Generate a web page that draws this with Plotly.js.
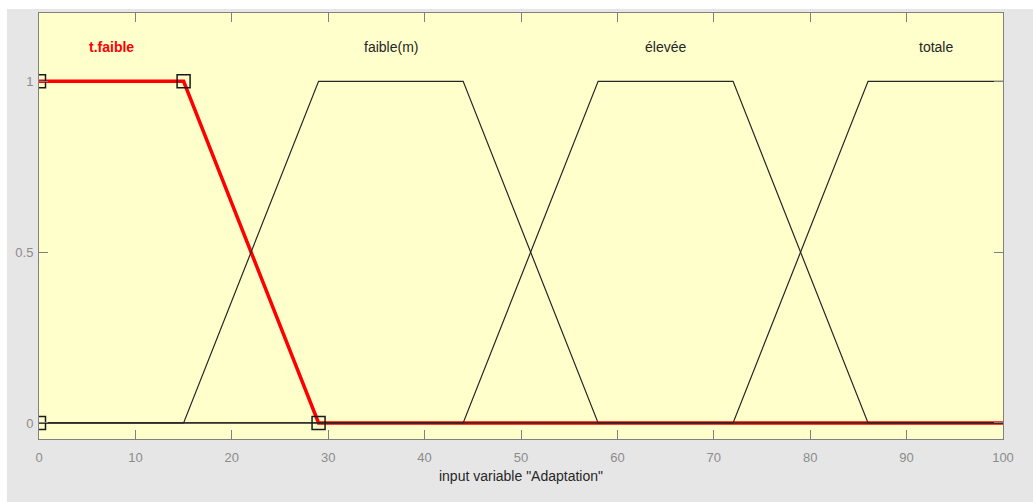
<!DOCTYPE html>
<html>
<head>
<meta charset="utf-8">
<script src="https://cdn.plot.ly/plotly-3.0.1.min.js"></script>
<style>
  html, body { margin: 0; padding: 0; background: #ffffff; width: 1033px; height: 502px; overflow: hidden; }
  #wrap { position: absolute; left: 7px; top: 9px; width: 1026px; height: 493px; background: #e6e6e6; }
  #chart { width: 1026px; height: 493px; }
</style>
</head>
<body>
<div id="wrap"><div id="chart"></div></div>
<script>
// Membership functions of input variable "Adaptation"
const mfNames = ['t.faible', 'faible(m)', 'élevée', 'totale'];
const tfaibleX = [0, 15, 29, 100];
const tfaibleY = [1, 1, 0, 0];
const faibleX = [0, 15, 29, 44, 58, 100];
const faibleY = [0, 0, 1, 1, 0, 0];
const eleveeX = [0, 44, 58, 72, 86, 100];
const eleveeY = [0, 0, 1, 1, 0, 0];
const totaleX = [0, 72, 86, 100];
const totaleY = [0, 0, 1, 1];
// Handles of the selected MF (t.faible)
const handleX = [0, 0, 15, 29];
const handleY = [0, 1, 1, 0];
// Label positions
const labelX = [7.5, 36.5, 65, 93];
const labelY = [1.1, 1.1, 1.1, 1.1];
const xTicks = [0, 10, 20, 30, 40, 50, 60, 70, 80, 90, 100];
const yTicks = [0, 0.5, 1];
const yTickText = ['0', '0.5', '1'];

const blackLine = {color: '#262626', width: 1.2};
const traces = [
  {x: tfaibleX, y: tfaibleY, mode: 'lines', line: {color: '#ff0000', width: 3.5}, hoverinfo: 'skip'},
  {x: faibleX, y: faibleY, mode: 'lines', line: blackLine, hoverinfo: 'skip'},
  {x: eleveeX, y: eleveeY, mode: 'lines', line: blackLine, hoverinfo: 'skip'},
  {x: totaleX, y: totaleY, mode: 'lines', line: blackLine, hoverinfo: 'skip'},
  {x: handleX, y: handleY, mode: 'markers',
   marker: {symbol: 'square-open', size: 13, color: '#1a1a1a', line: {width: 1.5, color: '#1a1a1a'}},
   hoverinfo: 'skip'}
];

const annotations = mfNames.map((n, i) => ({
  x: labelX[i], y: labelY[i], xref: 'x', yref: 'y', text: i === 0 ? '<b>' + n + '</b>' : n,
  showarrow: false,
  font: {family: 'Liberation Sans, Arial, sans-serif', size: 14, color: i === 0 ? '#ff0000' : '#262626'}
}));

const axisCommon = {
  showgrid: false, zeroline: false, showline: true, linecolor: '#808080', linewidth: 1,
  mirror: 'ticks', ticks: 'inside', ticklen: 9, tickcolor: '#808080', tickwidth: 1,
  tickfont: {family: 'Liberation Sans, Arial, sans-serif', size: 13, color: '#8c8c8c'}
};

const layout = {
  width: 1026, height: 493,
  margin: {l: 32, r: 30, t: 4, b: 63},
  paper_bgcolor: '#e6e6e6', plot_bgcolor: '#ffffcc',
  showlegend: false,
  xaxis: Object.assign({}, axisCommon, {
    range: [0, 100], tickvals: xTicks, ticklabelstandoff: 6,
    title: {text: 'input variable "Adaptation"', standoff: 7,
            font: {family: 'Liberation Sans, Arial, sans-serif', size: 14, color: '#262626'}}
  }),
  yaxis: Object.assign({}, axisCommon, {
    range: [-0.047, 1.2], tickvals: yTicks, ticktext: yTickText, ticklabelstandoff: 2
  }),
  annotations: annotations
};

Plotly.newPlot('chart', traces, layout, {displayModeBar: false, staticPlot: true});
</script>
</body>
</html>
